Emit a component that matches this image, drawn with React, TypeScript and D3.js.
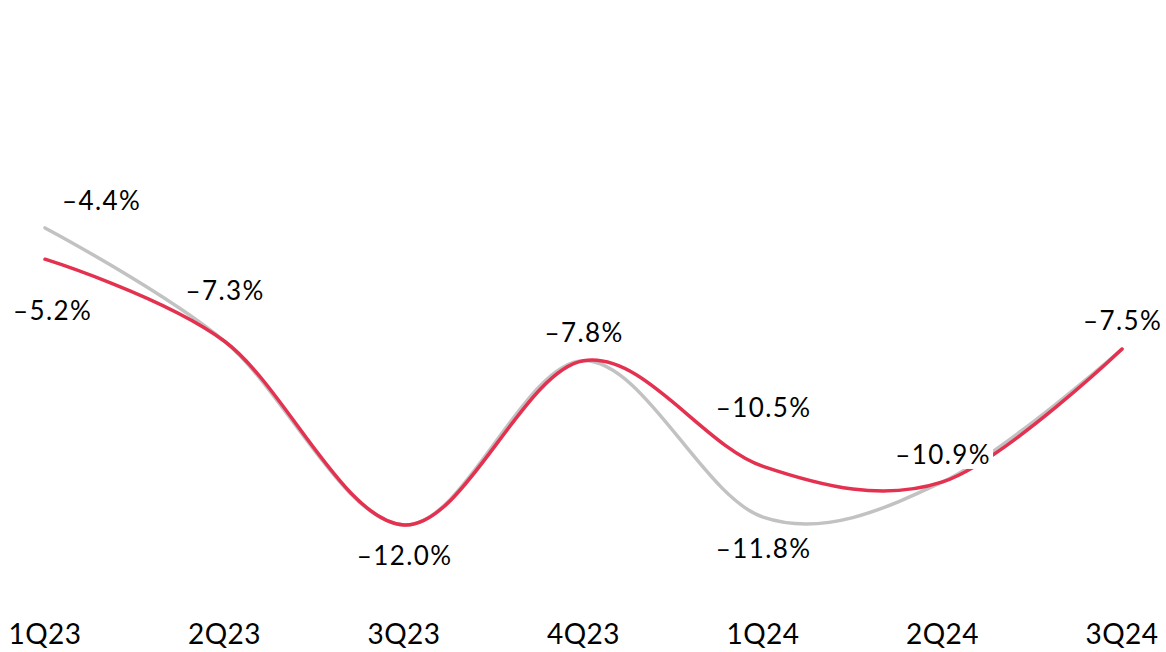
import React, { useEffect, useRef } from "react";
import * as d3 from "d3";

const quarters = ["1Q23", "2Q23", "3Q23", "4Q23", "1Q24", "2Q24", "3Q24"];
const grayValues = [-4.4, -7.3, -12.0, -7.8, -11.8, -10.9, -7.5];
const redValues = [-5.2, -7.3, -12.0, -7.8, -10.5, -10.9, -7.5];

// which points get a label, and where it sits relative to the point
const grayLabelIdx = [0, 4];
const grayLabelDx = [56, 0];
const grayLabelDy = [-18, 41];
const redLabelIdx = [0, 1, 2, 3, 4, 5, 6];
const redLabelDx = [7, 0, 0, 0, 0, 0, 0];
const redLabelDy = [61, -41, 40, -19, -49, -18, -19];

const W = 1166;
const H = 652;

const fmt = (v: number) => `\u2013${Math.abs(v).toFixed(1)}%`;

const App: React.FC = () => {
  const ref = useRef<SVGSVGElement | null>(null);

  useEffect(() => {
    if (!ref.current) return;
    const svg = d3.select(ref.current);
    svg.selectAll("*").remove();

    const x = d3.scalePoint<string>().domain(quarters).range([45, 1122]);
    const y = d3.scaleLinear().domain([-13, 0]).range([564, 56]);

    const line = d3
      .line<number>()
      .x((_, i) => x(quarters[i])!)
      .y((d) => y(d))
      .curve(d3.curveCardinal.tension(0));

    svg
      .append("path")
      .attr("d", line(grayValues)!)
      .attr("fill", "none")
      .attr("stroke", "#c2c2c2")
      .attr("stroke-width", 3.5)
      .attr("stroke-linecap", "round");

    svg
      .append("path")
      .attr("d", line(redValues)!)
      .attr("fill", "none")
      .attr("stroke", "#e3314f")
      .attr("stroke-width", 3.5)
      .attr("stroke-linecap", "round");

    const labels: { x: number; y: number; t: string }[] = [];
    grayLabelIdx.forEach((idx, k) => {
      labels.push({
        x: x(quarters[idx])! + grayLabelDx[k],
        y: y(grayValues[idx]) + grayLabelDy[k],
        t: fmt(grayValues[idx]),
      });
    });
    redLabelIdx.forEach((idx, k) => {
      labels.push({
        x: x(quarters[idx])! + redLabelDx[k],
        y: y(redValues[idx]) + redLabelDy[k],
        t: fmt(redValues[idx]),
      });
    });

    const lg = svg
      .append("g")
      .style("font-family", "Lato, 'Open Sans', sans-serif")
      .style("font-size", "26px")
      .style("letter-spacing", "1.4px");

    labels.forEach((l) => {
      const g = lg.append("g");
      const rect = g.append("rect").attr("fill", "#fff");
      const text = g
        .append("text")
        .attr("x", l.x + 0.7)
        .attr("y", l.y)
        .attr("text-anchor", "middle")
        .attr("fill", "#000")
        .text(l.t);
      const bb = (text.node() as SVGTextElement).getBBox();
      rect
        .attr("x", bb.x - 2)
        .attr("y", bb.y + 3)
        .attr("width", bb.width + 4)
        .attr("height", bb.height - 4);
    });

    svg
      .append("g")
      .style("font-family", "Lato, 'Open Sans', sans-serif")
      .style("font-size", "28px")
      .style("letter-spacing", "0.5px")
      .selectAll("text")
      .data(quarters)
      .enter()
      .append("text")
      .attr("x", (d) => x(d)!)
      .attr("y", 644)
      .attr("text-anchor", "middle")
      .attr("fill", "#000")
      .text((d) => d);
  }, []);

  return (
    <svg
      ref={ref}
      width={W}
      height={H}
      style={{ position: "absolute", left: 0, top: 0, background: "#fff" }}
    />
  );
};

export default App;
